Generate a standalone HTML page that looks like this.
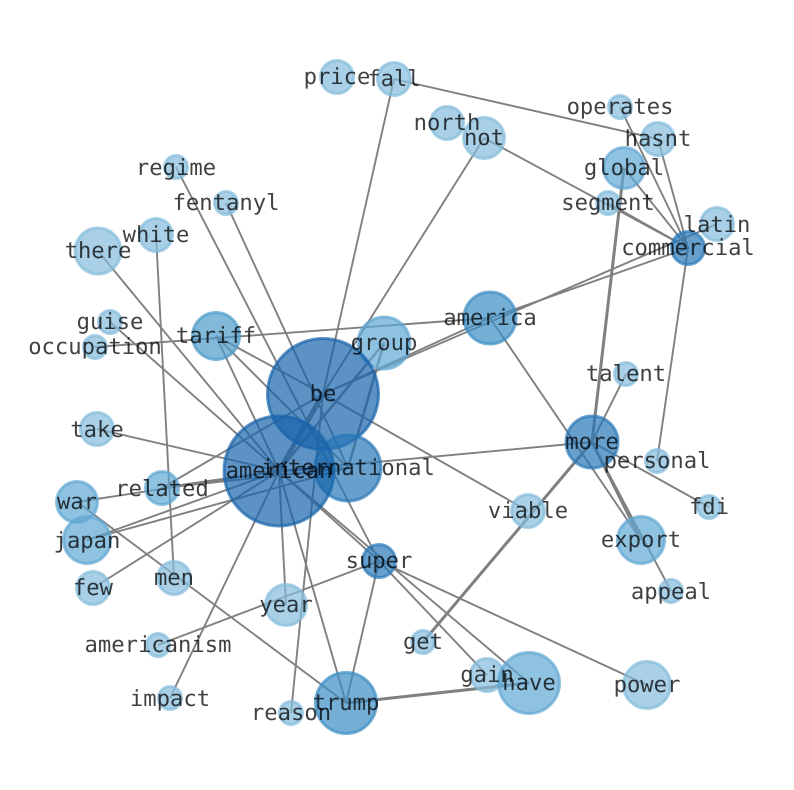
<!DOCTYPE html>
<html><head><meta charset="utf-8"><style>
html,body{margin:0;padding:0;background:#fff}
svg{display:block}
text{font-family:"DejaVu Sans Mono","Liberation Mono",monospace;font-size:22.2px;fill:#000;fill-opacity:.75;text-anchor:middle;dominant-baseline:central;text-rendering:geometricPrecision}
line{stroke:#808080;stroke-width:1.9}
circle{stroke-width:3;fill-opacity:.7;stroke-opacity:.7}
.a{fill:#1764ab;stroke:#1764ab}
.b{fill:#2878b8;stroke:#2878b8}
.c{fill:#3a8dc4;stroke:#3a8dc4}
.t{fill:#4d9acb;stroke:#4d9acb}
.d{fill:#5fa6d3;stroke:#5fa6d3}
.e{fill:#85bcdc;stroke:#85bcdc}
</style></head><body>
<svg width="794" height="790" viewBox="0 0 794 790" xmlns="http://www.w3.org/2000/svg">
<g>
<line x1="279" y1="471" x2="323" y2="394" style="stroke-width:5"/>
<line x1="279" y1="471" x2="348" y2="468"/>
<line x1="279" y1="471" x2="384" y2="343" style="stroke-width:2.5"/>
<line x1="348" y1="468" x2="384" y2="343" style="stroke-width:2.5"/>
<line x1="323" y1="394" x2="394" y2="79"/>
<line x1="323" y1="394" x2="484" y2="138"/>
<line x1="323" y1="394" x2="490" y2="318"/>
<line x1="323" y1="394" x2="216" y2="336"/>
<line x1="348" y1="468" x2="226" y2="203"/>
<line x1="323" y1="394" x2="528" y2="511"/>
<line x1="323" y1="394" x2="291" y2="713"/>
<line x1="323" y1="394" x2="162" y2="488"/>
<line x1="379" y1="561" x2="176" y2="167"/>
<line x1="279" y1="471" x2="98" y2="251"/>
<line x1="279" y1="471" x2="110" y2="322"/>
<line x1="279" y1="471" x2="97" y2="429"/>
<line x1="279" y1="471" x2="162" y2="488" style="stroke-width:2.5"/>
<line x1="348" y1="468" x2="162" y2="488"/>
<line x1="279" y1="471" x2="77" y2="502"/>
<line x1="279" y1="471" x2="87" y2="540"/>
<line x1="348" y1="468" x2="87" y2="540"/>
<line x1="279" y1="471" x2="93" y2="588"/>
<line x1="279" y1="471" x2="170" y2="698"/>
<line x1="279" y1="471" x2="286" y2="605"/>
<line x1="279" y1="471" x2="346" y2="703"/>
<line x1="279" y1="471" x2="529" y2="683"/>
<line x1="279" y1="471" x2="379" y2="561"/>
<line x1="379" y1="561" x2="487" y2="675"/>
<line x1="379" y1="561" x2="647" y2="685"/>
<line x1="279" y1="471" x2="216" y2="336"/>
<line x1="279" y1="471" x2="592" y2="442"/>
<line x1="348" y1="468" x2="216" y2="336"/>
<line x1="95" y1="347" x2="490" y2="318"/>
<line x1="156" y1="235" x2="174" y2="578"/>
<line x1="77" y1="502" x2="346" y2="703"/>
<line x1="158" y1="645" x2="379" y2="561"/>
<line x1="346" y1="703" x2="379" y2="561"/>
<line x1="346" y1="703" x2="529" y2="683" style="stroke-width:3"/>
<line x1="423" y1="642" x2="592" y2="442" style="stroke-width:3"/>
<line x1="592" y1="442" x2="626" y2="374"/>
<line x1="592" y1="442" x2="624" y2="168" style="stroke-width:3"/>
<line x1="592" y1="442" x2="709" y2="507"/>
<line x1="592" y1="442" x2="641" y2="540" style="stroke-width:3"/>
<line x1="592" y1="442" x2="671" y2="591"/>
<line x1="490" y1="318" x2="641" y2="540"/>
<line x1="688" y1="248" x2="624" y2="168"/>
<line x1="688" y1="248" x2="658" y2="139"/>
<line x1="688" y1="248" x2="620" y2="107"/>
<line x1="688" y1="248" x2="608" y2="203"/>
<line x1="688" y1="248" x2="484" y2="138"/>
<line x1="394" y1="79" x2="658" y2="139"/>
<line x1="688" y1="248" x2="490" y2="318"/>
<line x1="717" y1="224" x2="323" y2="394"/>
<line x1="688" y1="248" x2="657" y2="461"/>
</g>
<g>
<circle class="e" cx="337" cy="77" r="16.5"/>
<circle class="e" cx="394" cy="79" r="16.5"/>
<circle class="e" cx="620" cy="107" r="11.5"/>
<circle class="e" cx="658" cy="139" r="16.5"/>
<circle class="d" cx="624" cy="168" r="20.5"/>
<circle class="e" cx="608" cy="203" r="11.5"/>
<circle class="e" cx="717" cy="224" r="16.5"/>
<circle class="b" cx="688" cy="248" r="16.5"/>
<circle class="e" cx="484" cy="138" r="20.5"/>
<circle class="e" cx="447" cy="123" r="16.5"/>
<circle class="e" cx="176" cy="167" r="11.5"/>
<circle class="e" cx="226" cy="203" r="11.5"/>
<circle class="e" cx="156" cy="235" r="16.5"/>
<circle class="e" cx="98" cy="251" r="23"/>
<circle class="e" cx="110" cy="322" r="11.5"/>
<circle class="e" cx="95" cy="347" r="11.5"/>
<circle class="t" cx="216" cy="336" r="23.5"/>
<circle class="d" cx="384" cy="343" r="26"/>
<circle class="c" cx="490" cy="318" r="26"/>
<circle class="a" cx="323" cy="394" r="55.5"/>
<circle class="b" cx="348" cy="468" r="33"/>
<circle class="a" cx="279" cy="471" r="55"/>
<circle class="b" cx="592" cy="442" r="26"/>
<circle class="e" cx="626" cy="374" r="11.5"/>
<circle class="e" cx="657" cy="461" r="11.5"/>
<circle class="e" cx="709" cy="507" r="11.5"/>
<circle class="d" cx="641" cy="540" r="23.5"/>
<circle class="e" cx="671" cy="591" r="11.5"/>
<circle class="e" cx="528" cy="511" r="16.5"/>
<circle class="e" cx="97" cy="429" r="16.5"/>
<circle class="d" cx="77" cy="502" r="20.5"/>
<circle class="d" cx="87" cy="540" r="23.5"/>
<circle class="e" cx="93" cy="588" r="16.5"/>
<circle class="d" cx="162" cy="488" r="16.5"/>
<circle class="e" cx="174" cy="578" r="16.5"/>
<circle class="e" cx="286" cy="605" r="20.5"/>
<circle class="b" cx="379" cy="561" r="16.5"/>
<circle class="e" cx="158" cy="645" r="11.5"/>
<circle class="e" cx="170" cy="698" r="11.5"/>
<circle class="e" cx="291" cy="713" r="11.5"/>
<circle class="c" cx="346" cy="703" r="30.5"/>
<circle class="e" cx="423" cy="642" r="11.5"/>
<circle class="e" cx="487" cy="675" r="16.5"/>
<circle class="d" cx="529" cy="683" r="30.5"/>
<circle class="e" cx="647" cy="685" r="23.5"/>
</g>
<g transform="translate(0,1)">
<text x="337" y="76">price</text>
<text x="394" y="78">fall</text>
<text x="620" y="106">operates</text>
<text x="658" y="138">hasnt</text>
<text x="624" y="167">global</text>
<text x="608" y="202">segment</text>
<text x="717" y="224">latin</text>
<text x="688" y="247">commercial</text>
<text x="484" y="137">not</text>
<text x="447" y="122">north</text>
<text x="176" y="167">regime</text>
<text x="226" y="202">fentanyl</text>
<text x="156" y="234">white</text>
<text x="98" y="250">there</text>
<text x="110" y="321">guise</text>
<text x="95" y="346">occupation</text>
<text x="216" y="335">tariff</text>
<text x="384" y="342">group</text>
<text x="490" y="317">america</text>
<text x="323" y="393">be</text>
<text x="348" y="467">international</text>
<text x="279" y="470">american</text>
<text x="592" y="441">more</text>
<text x="626" y="373">talent</text>
<text x="657" y="460">personal</text>
<text x="709" y="506">fdi</text>
<text x="641" y="539">export</text>
<text x="671" y="591">appeal</text>
<text x="528" y="510">viable</text>
<text x="97" y="429">take</text>
<text x="77" y="501">war</text>
<text x="87" y="540">japan</text>
<text x="93" y="587">few</text>
<text x="162" y="488">related</text>
<text x="174" y="577">men</text>
<text x="286" y="604">year</text>
<text x="379" y="560">super</text>
<text x="158" y="644">americanism</text>
<text x="170" y="698">impact</text>
<text x="291" y="712">reason</text>
<text x="346" y="702">trump</text>
<text x="423" y="641">get</text>
<text x="487" y="674">gain</text>
<text x="529" y="682">have</text>
<text x="647" y="684">power</text>
</g>
</svg>
</body></html>
